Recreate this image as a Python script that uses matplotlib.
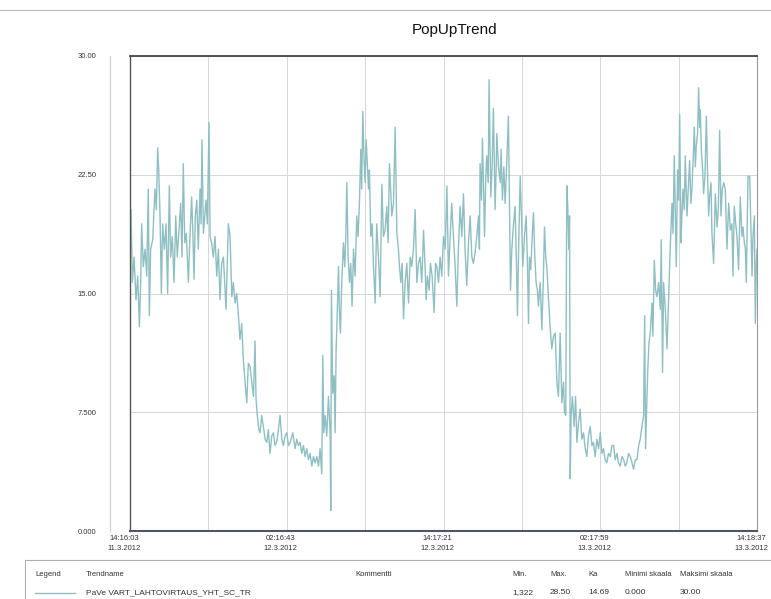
import matplotlib
matplotlib.use("Agg")
import matplotlib.pyplot as plt
from matplotlib.lines import Line2D
from matplotlib.patches import Rectangle
from matplotlib.transforms import ScaledTranslation

plt.rcParams['font.family'] = ['Liberation Sans', 'DejaVu Sans']

# ===============================
# Data read from the trend (hours since 11.3.2012 14:16:03)
# ===============================
hours_day1 = [0.00, 0.08, 0.18, 0.31, 0.46, 0.59, 0.72, 0.82, 0.89, 1.02,
              1.15, 1.28, 1.40, 1.48, 1.58, 1.74, 1.91, 2.02, 2.12, 2.20,
              2.30, 2.40, 2.50, 2.63, 2.76, 2.88, 3.01, 3.11, 3.24, 3.37,
              3.50, 3.62, 3.75, 3.88, 3.98, 4.08, 4.19, 4.31, 4.47, 4.59,
              4.72, 4.82, 4.90, 5.00, 5.11, 5.23, 5.36, 5.44, 5.51, 5.62,
              5.72, 5.82, 5.92, 6.05, 6.13, 6.25, 6.38, 6.51, 6.64, 6.77,
              6.89, 7.02, 7.15, 7.25, 7.35, 7.45, 7.53, 7.66, 7.79, 7.91,
              8.04, 8.17, 8.30, 8.42, 8.55, 8.68, 8.81, 8.94, 9.06, 9.19,
              9.32, 9.45, 9.57, 9.65, 9.75, 9.86, 9.96, 10.08, 10.21, 10.34,
              10.47, 10.59, 10.72, 10.85, 10.98, 11.10, 11.23, 11.36, 11.49, 11.62,
              11.74, 11.87, 12.00, 12.13]
values_day1 = [16.7, 20.3, 15.7, 17.3, 14.6, 16.1, 12.9, 15.7, 19.4, 16.7,
               17.8, 16.1, 21.6, 13.6, 17.8, 18.4, 21.6, 20.3, 24.2, 22.8,
               19.9, 15.0, 19.4, 17.8, 19.4, 15.0, 21.8, 17.3, 18.6, 15.7,
               19.9, 17.3, 19.0, 20.7, 17.3, 23.2, 18.2, 18.8, 15.7, 18.6,
               21.1, 18.6, 15.9, 19.9, 20.9, 17.8, 21.6, 19.4, 24.7, 18.8,
               19.9, 20.9, 19.4, 25.8, 18.6, 18.2, 17.3, 18.6, 16.1, 17.8,
               14.6, 16.9, 17.3, 15.7, 14.0, 16.9, 19.4, 18.6, 14.8, 15.7,
               14.4, 15.0, 13.6, 12.1, 13.1, 10.8, 9.4, 8.1, 10.6, 10.4,
               9.4, 8.5, 12.0, 8.3, 7.3, 6.4, 6.2, 7.3, 6.6, 5.8,
               5.6, 6.4, 4.9, 6.0, 6.2, 5.4, 5.6, 6.4, 7.3, 5.8,
               5.4, 6.0, 6.2, 5.4]

hours_day2 = [12.26, 12.46, 12.64, 12.77, 12.89, 13.02, 13.15, 13.28, 13.40, 13.53,
              13.66, 13.79, 13.92, 14.04, 14.17, 14.30, 14.43, 14.55, 14.68, 14.76,
              14.83, 14.94, 15.06, 15.19, 15.32, 15.37, 15.42, 15.52, 15.63, 15.70,
              15.78, 15.86, 15.96, 16.03, 16.11, 16.21, 16.34, 16.44, 16.52, 16.60,
              16.70, 16.80, 16.90, 17.00, 17.11, 17.23, 17.36, 17.46, 17.57, 17.67,
              17.74, 17.82, 17.92, 18.00, 18.08, 18.18, 18.26, 18.33, 18.43, 18.54,
              18.64, 18.77, 18.84, 18.89, 19.02, 19.15, 19.28, 19.40, 19.53, 19.66,
              19.76, 19.86, 19.97, 20.04, 20.17, 20.30, 20.43, 20.55, 20.63, 20.73,
              20.83, 20.94, 21.06, 21.19, 21.32, 21.45, 21.57, 21.70, 21.83, 21.96,
              22.08, 22.21, 22.34, 22.47, 22.60, 22.67, 22.77, 22.90, 23.00, 23.13,
              23.28, 23.39, 23.49, 23.62, 23.74, 23.87, 24.00, 24.13, 24.26, 24.38]
values_day2 = [5.6, 6.2, 5.2, 5.8, 5.4, 5.6, 4.9, 5.4, 4.7, 5.2,
               4.5, 4.9, 4.1, 4.7, 4.3, 4.7, 4.1, 5.2, 3.6, 11.1,
               6.2, 7.3, 6.0, 8.5, 6.2, 1.3, 15.2, 8.7, 9.8, 6.2,
               11.5, 13.6, 16.7, 14.0, 12.5, 15.7, 18.2, 16.7, 18.6, 22.0,
               17.3, 15.7, 16.9, 14.2, 17.8, 16.1, 19.9, 18.6, 20.9, 24.1,
               21.6, 26.5, 23.4, 22.0, 24.7, 23.0, 21.6, 22.8, 18.6, 19.4,
               16.7, 14.4, 17.8, 19.4, 17.3, 14.8, 21.9, 18.6, 19.0, 20.5,
               18.2, 23.2, 21.3, 19.9, 20.7, 25.5, 18.8, 17.8, 16.7, 15.7,
               16.9, 13.4, 15.7, 16.9, 14.4, 17.3, 16.7, 17.8, 20.3, 15.7,
               16.9, 17.3, 15.7, 19.0, 16.5, 14.6, 16.1, 15.2, 16.9, 16.1,
               13.8, 16.9, 16.7, 15.7, 17.3, 16.1, 18.6, 17.8, 21.8, 16.1]

hours_day3 = [24.51, 24.63, 24.76, 24.89, 25.02, 25.14, 25.27, 25.40, 25.53, 25.65,
              25.78, 25.91, 26.04, 26.17, 26.29, 26.42, 26.55, 26.68, 26.75, 26.80,
              26.91, 26.98, 27.06, 27.14, 27.24, 27.31, 27.42, 27.49, 27.57, 27.62,
              27.72, 27.82, 27.90, 27.95, 28.03, 28.08, 28.21, 28.34, 28.41, 28.51,
              28.62, 28.72, 28.85, 28.97, 29.05, 29.13, 29.23, 29.36, 29.48, 29.59,
              29.66, 29.77, 29.87, 29.97, 30.07, 30.20, 30.33, 30.43, 30.51, 30.58,
              30.68, 30.79, 30.89, 30.99, 31.09, 31.19, 31.27, 31.40, 31.53, 31.65,
              31.73, 31.83, 31.91, 32.04, 32.16, 32.29, 32.42, 32.55, 32.68, 32.80,
              32.93, 33.06, 33.19, 33.26, 33.36, 33.44, 33.52, 33.59, 33.65, 33.70,
              33.77, 33.87, 34.00, 34.11, 34.21, 34.33, 34.46, 34.59, 34.72, 34.85,
              34.97, 35.10, 35.23, 35.36, 35.48, 35.61, 35.74, 35.87, 36.00, 36.12,
              36.25, 36.38, 36.50, 36.63]
values_day3 = [18.6, 20.7, 18.6, 16.7, 14.2, 17.8, 20.5, 18.6, 21.3, 17.8,
               15.5, 18.2, 19.9, 17.3, 16.9, 17.6, 18.6, 19.9, 17.8, 23.2,
               20.9, 24.8, 22.0, 18.6, 22.4, 23.7, 22.0, 28.5, 24.1, 21.1,
               23.0, 26.7, 23.0, 20.3, 22.8, 25.1, 23.0, 22.0, 24.1, 20.9,
               23.0, 20.7, 23.4, 26.2, 20.9, 15.2, 17.8, 19.4, 20.5, 16.7,
               13.6, 18.6, 22.4, 19.9, 16.7, 18.6, 19.9, 16.7, 13.1, 17.3,
               16.5, 18.6, 20.1, 17.3, 15.7, 15.2, 14.2, 15.7, 12.7, 16.1,
               19.2, 17.3, 16.7, 14.6, 12.9, 11.5, 12.3, 12.5, 9.4, 8.5,
               12.5, 8.1, 9.4, 7.5, 7.3, 21.8, 20.3, 17.8, 19.9, 3.3,
               7.3, 8.5, 6.6, 8.5, 5.6, 6.8, 7.7, 5.8, 6.2, 5.2,
               4.7, 6.0, 6.6, 5.4, 5.6, 4.7, 5.8, 5.2, 6.2, 4.9,
               5.2, 4.5, 4.3, 4.9]

hours_day4 = [36.77, 36.89, 37.02, 37.15, 37.28, 37.40, 37.53, 37.66, 37.79, 37.91,
              38.04, 38.17, 38.30, 38.43, 38.55, 38.68, 38.81, 38.94, 39.06, 39.19,
              39.32, 39.40, 39.47, 39.57, 39.65, 39.73, 39.83, 39.96, 40.03, 40.14,
              40.24, 40.34, 40.47, 40.60, 40.67, 40.77, 40.85, 40.98, 41.11, 41.23,
              41.36, 41.49, 41.57, 41.67, 41.74, 41.82, 41.92, 42.00, 42.08, 42.18,
              42.25, 42.33, 42.43, 42.51, 42.64, 42.74, 42.84, 42.94, 43.02, 43.10,
              43.20, 43.28, 43.35, 43.45, 43.53, 43.61, 43.66, 43.74, 43.84, 43.91,
              44.02, 44.12, 44.22, 44.30, 44.37, 44.48, 44.55, 44.68, 44.81, 44.94,
              45.04, 45.14, 45.24, 45.34, 45.45, 45.57, 45.70, 45.83, 45.96, 46.08,
              46.16, 46.26, 46.37, 46.47, 46.59, 46.72, 46.85, 46.93, 47.03, 47.11,
              47.18, 47.31, 47.44, 47.54, 47.62, 47.69, 47.80, 47.87, 47.95, 48.00]
values_day4 = [4.7, 5.4, 5.4, 4.5, 4.9, 4.3, 4.1, 4.7, 4.5, 4.1,
               4.3, 4.9, 4.7, 4.3, 3.9, 4.5, 4.5, 5.4, 5.8, 6.6,
               7.3, 13.6, 5.2, 8.3, 10.4, 11.9, 12.5, 14.4, 12.3, 17.1,
               15.2, 14.8, 15.7, 14.0, 18.4, 10.0, 15.7, 14.0, 11.5, 14.6,
               18.0, 20.7, 18.8, 23.7, 20.3, 16.7, 22.8, 20.9, 26.3, 18.2,
               19.9, 21.6, 20.3, 23.7, 19.9, 21.6, 23.4, 20.7, 21.6, 23.2,
               25.5, 23.0, 24.3, 25.1, 28.0, 25.5, 26.6, 24.1, 22.8, 21.3,
               22.4, 26.2, 22.4, 19.9, 21.1, 22.0, 18.8, 16.9, 21.3, 19.2,
               20.3, 25.3, 19.9, 21.6, 22.0, 21.6, 17.8, 20.7, 19.0, 19.4,
               16.1, 20.5, 19.4, 18.6, 16.5, 21.1, 18.6, 19.2, 18.2, 17.8,
               15.7, 22.4, 22.4, 18.8, 16.1, 18.6, 19.9, 13.1, 16.9, 17.8]

tick_hours = [0, 12, 24, 36, 48]
tick_labels = ["14:16:03\n11.3.2012", "02:16:43\n12.3.2012", "14:17:21\n12.3.2012",
               "02:17:59\n13.3.2012", "14:18:37\n13.3.2012"]
y_ticks = [0, 7.5, 15, 22.5, 30]
y_labels = ["0.000", "7.500", "15.00", "22.50", "30.00"]

trend_name = "PaVe VART_LAHTOVIRTAUS_YHT_SC_TR"
headers = ["Min.", "Max.", "Ka", "Minimi skaala", "Maksimi skaala"]
stats = ["1,322", "28.50", "14.69", "0.000", "30.00"]

hours = hours_day1 + hours_day2 + hours_day3 + hours_day4
values = values_day1 + values_day2 + values_day3 + values_day4

# ===============================
# Figure
# ===============================
W, H = 771, 599
fig = plt.figure(figsize=(W / 100, H / 100), dpi=100)
fig.patch.set_facecolor("white")

ax = fig.add_axes([130 / W, 1 - 531 / H, (757 - 130) / W, (531 - 56) / H])
ax.plot(hours, values, color="#8fbfc2", linewidth=1.0)

ax.set_xlim(0, 48)
ax.set_ylim(0, 30)
ax.set_yticks(y_ticks)
ax.set_yticklabels(y_labels)
ax.set_xticks(tick_hours)
ax.set_xticklabels(tick_labels, linespacing=1.5)
ax.set_xticks([6, 18, 30, 42], minor=True)
ax.grid(True, which="both", color="#d6d6d6", linewidth=0.7)
ax.tick_params(axis="y", length=0, pad=24, labelsize=5.5, labelcolor="#333333")
ax.tick_params(axis="x", which="both", length=0, pad=3, labelsize=5.5, labelcolor="#333333")
for lab in ax.get_xticklabels():
    lab.set_transform(lab.get_transform() + ScaledTranslation(-6 / 100, 0, fig.dpi_scale_trans))

ax.spines["top"].set_color("#444444")
ax.spines["top"].set_linewidth(1.3)
ax.spines["left"].set_color("#555555")
ax.spines["left"].set_linewidth(1.0)
ax.spines["bottom"].set_color("#50566a")
ax.spines["bottom"].set_linewidth(1.5)
ax.spines["right"].set_color("#999999")
ax.spines["right"].set_linewidth(0.8)

# title and frame lines
fig.text(455 / W, 1 - 30 / H, "PopUpTrend", ha="center", va="center", fontsize=11, color="#111111")
fig.add_artist(Line2D([0, 1], [1 - 10 / H] * 2, color="#bbbbbb", linewidth=0.8))
fig.add_artist(Line2D([110 / W] * 2, [1 - 531 / H, 1 - 56 / H], color="#cfcfcf", linewidth=0.8))

# ===============================
# Legend table
# ===============================
fig.add_artist(Rectangle((25 / W, -0.02), 1, 0.02 + (H - 560) / H, transform=fig.transFigure,
                         facecolor="none", edgecolor="#b0b0b0", linewidth=0.8))
y_head = 1 - 575 / H
y_row = 1 - 593 / H
fig.text(35 / W, y_head, "Legend", fontsize=5.5, va="center", color="#333333")
fig.text(86 / W, y_head, "Trendname", fontsize=5.5, va="center", color="#333333")
fig.text(355 / W, y_head, "Kommentti", fontsize=5.5, va="center", color="#333333")
for x, h, s in zip([512, 550, 588, 625, 680], headers, stats):
    fig.text(x / W, y_head, h, fontsize=5.5, va="center", color="#333333")
    fig.text(x / W, y_row, s, fontsize=6, va="center", color="#333333")
fig.add_artist(Line2D([35 / W, 75 / W], [y_row] * 2, color="#8fbfc2", linewidth=1.0))
fig.text(86 / W, y_row, trend_name, fontsize=6, va="center", color="#333333")

fig.savefig("out.png", dpi=100)
